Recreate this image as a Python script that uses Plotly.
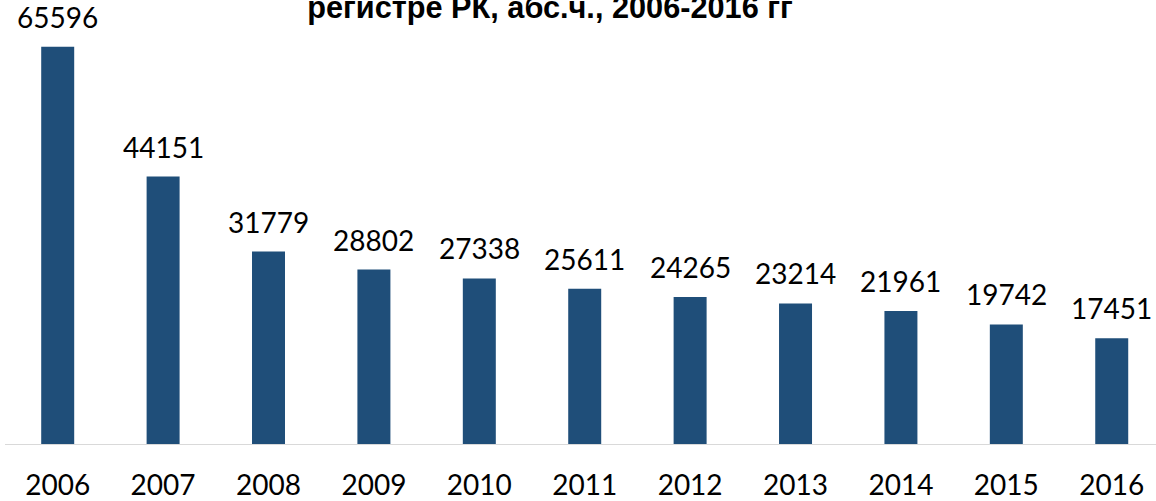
import plotly.graph_objects as go

years = ["2006", "2007", "2008", "2009", "2010", "2011", "2012", "2013", "2014", "2015", "2016"]
values = [65596, 44151, 31779, 28802, 27338, 25611, 24265, 23214, 21961, 19742, 17451]
title_text = "регистре РК, абс.ч., 2006-2016 гг"

fig = go.Figure()
fig.add_trace(go.Bar(
    x=years, y=values,
    marker=dict(color="#1F4E79", line=dict(width=0)),
    width=0.313,
    hoverinfo="x+y",
))

for i, v in enumerate(values):
    fig.add_annotation(
        x=i, y=v, text=str(v), showarrow=False,
        xref="x", yref="y", yanchor="bottom", yshift=11,
        font=dict(family="Lato", size=28, color="#000000"),
    )

fig.update_layout(
    width=1156, height=501,
    margin=dict(l=5, r=0, t=20, b=57, autoexpand=False),
    paper_bgcolor="white", plot_bgcolor="white",
    showlegend=False,
    title=dict(
        text=title_text,
        x=550 / 1156, xanchor="center",
        y=1 - 7.2 / 501, yanchor="middle", yref="container",
        font=dict(family="Liberation Sans", size=30.7, color="#000000", weight="bold"),
    ),
    xaxis=dict(
        type="category", range=[-0.5, 10.42], automargin=False,
        showline=True, linecolor="#D9D9D9", linewidth=1,
        showgrid=False, ticks="", ticklabelstandoff=16,
        tickfont=dict(family="Lato", size=28, color="#000000"),
    ),
    yaxis=dict(
        range=[0, 70000], showgrid=False, zeroline=False, showline=False,
        showticklabels=False, ticks="", automargin=False,
    ),
)

fig.write_html("out.html", config={"displayModeBar": False},
               post_script="document.body.style.margin='0';")
